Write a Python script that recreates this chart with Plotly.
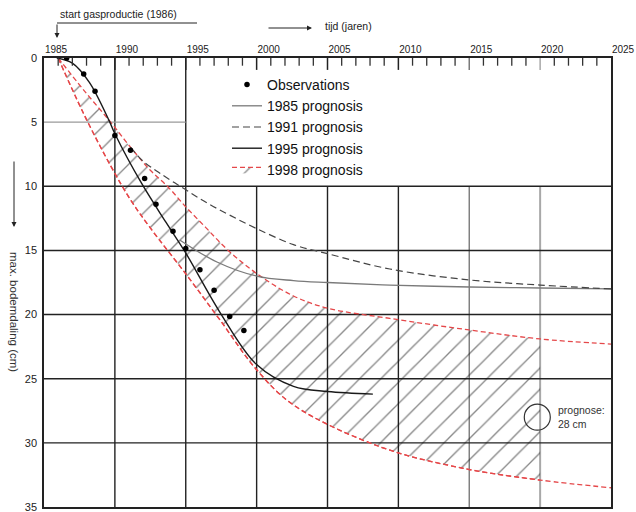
import plotly.graph_objects as go

# ---------------- data ----------------
obs_year = [1986.6, 1987.8, 1988.6, 1990.0, 1991.1, 1992.1, 1992.9, 1994.1, 1995.0, 1996.0, 1997.0, 1998.1, 1999.1]
obs_cm = [0.0, 1.25, 2.6, 6.05, 7.2, 9.4, 11.4, 13.5, 14.85, 16.5, 18.1, 20.15, 21.25]

p1985_year = [1994.6, 1997.2, 2000.0, 2002.6, 2005.0, 2009.4, 2015.0, 2020.0, 2025.0]
p1985_cm = [14.2, 15.9, 17.0, 17.35, 17.5, 17.7, 17.85, 17.93, 18.0]

p1991_year = [1991.1, 1992.0, 1993.2, 1994.9, 1996.5, 1998.1, 2000.0, 2002.6, 2005.0, 2009.4, 2015.0, 2020.0, 2025.0]
p1991_cm = [6.95, 8.05, 9.0, 10.2, 11.3, 12.25, 13.3, 14.55, 15.25, 16.45, 17.3, 17.7, 18.0]

p1995_year = [1985.9, 1987.0, 1988.2, 1989.6, 1990.0, 1991.9, 1993.6, 1995.0, 1997.4, 2000.0, 2002.6, 2005.0, 2008.2]
p1995_cm = [0.0, 0.4, 1.9, 4.9, 5.9, 9.8, 12.8, 15.2, 19.8, 23.9, 25.6, 26.0, 26.2]

p1998_upper_year = [1986.0, 1987.8, 1989.7, 1991.1, 1992.5, 1993.75, 1995.0, 1996.4, 1997.9, 2000.0, 2002.6, 2005.0, 2009.4, 2015.0, 2020.0, 2025.0]
p1998_upper_cm = [0.0, 2.5, 5.0, 6.95, 8.75, 10.05, 11.6, 13.2, 14.9, 16.8, 18.55, 19.5, 20.3, 21.2, 21.9, 22.3]

p1998_lower_year = [1986.0, 1987.8, 1989.7, 1991.1, 1992.5, 1994.95, 1997.4, 2000.0, 2002.6, 2008.7, 2014.4, 2020.0, 2025.0]
p1998_lower_cm = [0.0, 4.35, 8.4, 11.05, 13.25, 16.75, 20.4, 24.3, 27.05, 30.3, 31.95, 32.9, 33.5]

hatch_end_year = 2020.0
prognose_year = [2019.8]
prognose_cm = [28.0]

grid_years = [1990, 1995, 2000, 2005, 2010, 2015, 2020]
minor_tick_years = [y for y in range(1986, 2025) if y % 5 != 0]
grid_cm = [5, 10, 15, 20, 25, 30]
tick_label_years = [1985, 1990, 1995, 2000, 2005, 2010, 2015, 2020, 2025]
y_ticks = [0, 5, 10, 15, 20, 25, 30, 35]

# ---------------- geometry helpers (page pixels -> paper) ----------------
W, H = 636, 512
ML, MT, MB, MR = 44, 58, 5, 0
PLOT_RIGHT = 611
PW = W - ML - MR
PH = H - MT - MB
Y_MAX = 35.0


def px(xp):
    return (xp - ML) / PW


def py(yp):
    return (H - MB - yp) / PH


x_domain_end = (PLOT_RIGHT - ML) / PW
px_per_year = (PLOT_RIGHT - ML) / 40.0
# printed year labels sit ~0.85 year to the right of the grid lines in the source
label_lo = 1985 - 12 / px_per_year
label_hi = label_lo + PW / px_per_year

RED = "#e5484a"


def grid_style(g):
    if g == 2015:
        return "#7a7a7a", 1.4
    if g == 2020:
        return "#a8a8a8", 2
    return "#222222", 1.4


fig = go.Figure()

# hatched band of 1998 prognosis (up to 2020)
up_x = [x for x in p1998_upper_year if x <= hatch_end_year]
up_y = p1998_upper_cm[:len(up_x)]
lo_x = [x for x in p1998_lower_year if x <= hatch_end_year]
lo_y = p1998_lower_cm[:len(lo_x)]

fig.add_trace(go.Scatter(x=up_x, y=up_y, mode="lines", line=dict(width=0, shape="spline", color=RED),
                         showlegend=False, hoverinfo="skip"))
fig.add_trace(go.Scatter(x=lo_x, y=lo_y, mode="lines", fill="tonexty", fillcolor="rgba(255,255,255,0)",
                         fillpattern=dict(shape="/", fgcolor="#111111", bgcolor="rgba(255,255,255,0)",
                                          size=15, solidity=0.09),
                         line=dict(color=RED, width=1.3, dash="5px,3px", shape="spline"),
                         name="1998 prognosis", legendrank=5))
# full red boundaries
fig.add_trace(go.Scatter(x=p1998_upper_year, y=p1998_upper_cm, mode="lines",
                         line=dict(color=RED, width=1.3, dash="5px,3px", shape="spline"),
                         showlegend=False))
fig.add_trace(go.Scatter(x=p1998_lower_year, y=p1998_lower_cm, mode="lines",
                         line=dict(color=RED, width=1.3, dash="5px,3px", shape="spline"),
                         showlegend=False))

fig.add_trace(go.Scatter(x=p1985_year, y=p1985_cm, mode="lines", name="1985 prognosis",
                         line=dict(color="#7a7a7a", width=1.3, shape="spline"), legendrank=2))
fig.add_trace(go.Scatter(x=p1991_year, y=p1991_cm, mode="lines", name="1991 prognosis",
                         line=dict(color="#444444", width=1.2, dash="7px,4px", shape="spline"), legendrank=3))
fig.add_trace(go.Scatter(x=p1995_year, y=p1995_cm, mode="lines", name="1995 prognosis",
                         line=dict(color="#1a1a1a", width=1.4, shape="spline"), legendrank=4))
fig.add_trace(go.Scatter(x=obs_year, y=obs_cm, mode="markers", name="Observations",
                         marker=dict(color="#000000", size=5.5), legendrank=1))
fig.add_trace(go.Scatter(x=prognose_year, y=prognose_cm, mode="markers", showlegend=False,
                         marker=dict(symbol="circle-open", size=26, color="#333333", line=dict(width=1.2))))
# empty trace so the printed-year label axis gets drawn
fig.add_trace(go.Scatter(x=[], y=[], xaxis="x2", yaxis="y", mode="markers", showlegend=False,
                         hoverinfo="skip"))

# inward tick marks hanging from the top frame (half of each symbol is clipped away)
fig.add_trace(go.Scatter(x=minor_tick_years, y=[0] * len(minor_tick_years), mode="markers",
                         marker=dict(symbol="line-ns-open", size=11, color="#333333",
                                     line=dict(width=1.3)),
                         showlegend=False, hoverinfo="skip", cliponaxis=True))
fig.add_trace(go.Scatter(x=grid_years, y=[0] * len(grid_years), mode="markers",
                         marker=dict(symbol="line-ns-open", size=17,
                                     color=[grid_style(g)[0] for g in grid_years],
                                     line=dict(width=1.5)),
                         showlegend=False, hoverinfo="skip", cliponaxis=True))

# grid lines (upper-right block of the source is empty)
for g in grid_years:
    col, wid = grid_style(g)
    top = 0 if g <= 1995 else 10
    fig.add_shape(type="line", xref="x", yref="y", x0=g, x1=g, y0=top, y1=35,
                  line=dict(color=col, width=wid), layer="below")
for c in grid_cm:
    if c == 5:
        fig.add_shape(type="line", xref="x", yref="y", x0=1985, x1=1995, y0=c, y1=c,
                      line=dict(color="#9a9a9a", width=1.2), layer="below")
    else:
        fig.add_shape(type="line", xref="x", yref="y", x0=1985, x1=2025, y0=c, y1=c,
                      line=dict(color="#222222", width=1.4), layer="below")

# ---------------- decorations ----------------
TXT = "#222222"
fig.add_annotation(xref="paper", yref="paper", x=px(58), y=py(14), text="start gasproductie (1986)",
                   showarrow=False, xanchor="left", yanchor="middle", font=dict(size=10.5, color=TXT))
fig.add_shape(type="line", xref="paper", yref="paper", x0=px(57), x1=px(197), y0=py(23), y1=py(23),
              line=dict(color="#222222", width=1))
fig.add_annotation(xref="paper", yref="paper", x=px(57), y=py(38), ax=0, ay=-15, text="",
                   showarrow=True, arrowhead=2, arrowsize=1, arrowwidth=1, arrowcolor="#222222",
                   standoff=0, startstandoff=0)
fig.add_annotation(xref="paper", yref="paper", x=px(312), y=py(28), ax=-45, ay=0, text="",
                   showarrow=True, arrowhead=2, arrowsize=1, arrowwidth=1, arrowcolor="#222222",
                   standoff=0, startstandoff=0)
fig.add_annotation(xref="paper", yref="paper", x=px(323), y=py(26), text="tijd (jaren)",
                   showarrow=False, xanchor="left", yanchor="middle", font=dict(size=10.5, color=TXT))
fig.add_annotation(xref="paper", yref="paper", x=px(14), y=py(227), ax=0, ay=-67, text="",
                   showarrow=True, arrowhead=2, arrowsize=1, arrowwidth=1, arrowcolor="#222222",
                   standoff=0, startstandoff=0)
fig.add_annotation(xref="paper", yref="paper", x=px(14), y=py(312), text="max. bodemdaling (cm)",
                   textangle=90, showarrow=False, xanchor="center", yanchor="middle",
                   font=dict(size=11.5, color="#333333"))
fig.add_annotation(xref="x", yref="y", x=prognose_year[0] + 1.35, y=prognose_cm[0],
                   text="prognose:<br>28 cm", showarrow=False, xanchor="left", yanchor="middle",
                   align="left", font=dict(size=10.5, color="#333333"))

fig.update_layout(
    width=W, height=H,
    margin=dict(l=ML, r=MR, t=MT, b=MB, pad=0),
    paper_bgcolor="white", plot_bgcolor="rgba(0,0,0,0)",
    font=dict(family="Liberation Sans, Arial, sans-serif", color="#111111"),
    xaxis=dict(domain=[0, x_domain_end], range=[1985, 2025], side="top", showticklabels=False,
               showgrid=False, zeroline=False, showline=True, mirror=True, linecolor="#222222",
               linewidth=1.5, ticks=""),
    xaxis2=dict(domain=[0, 1], anchor="y", side="top", range=[label_lo, label_hi],
                tickmode="array", tickvals=tick_label_years, ticks="", showgrid=False,
                showline=False, zeroline=False, tickfont=dict(size=10, color="#222222"),
                ticklabelstandoff=2, ticklabeloverflow="allow"),
    yaxis=dict(range=[Y_MAX, 0], anchor="x", tickmode="array", tickvals=y_ticks, ticks="",
               showgrid=False, zeroline=False, showline=True, mirror=True, linecolor="#222222",
               linewidth=1.5, tickfont=dict(size=11, color="#222222"), ticklabelstandoff=3,
               ticklabeloverflow="allow"),
    legend=dict(x=px(227), y=py(69), xanchor="left", yanchor="top", bgcolor="rgba(0,0,0,0)",
                font=dict(size=14, color="#111111"), borderwidth=0, tracegroupgap=0,
                traceorder="normal"),
    showlegend=True,
)

fig.write_html("out.html")
